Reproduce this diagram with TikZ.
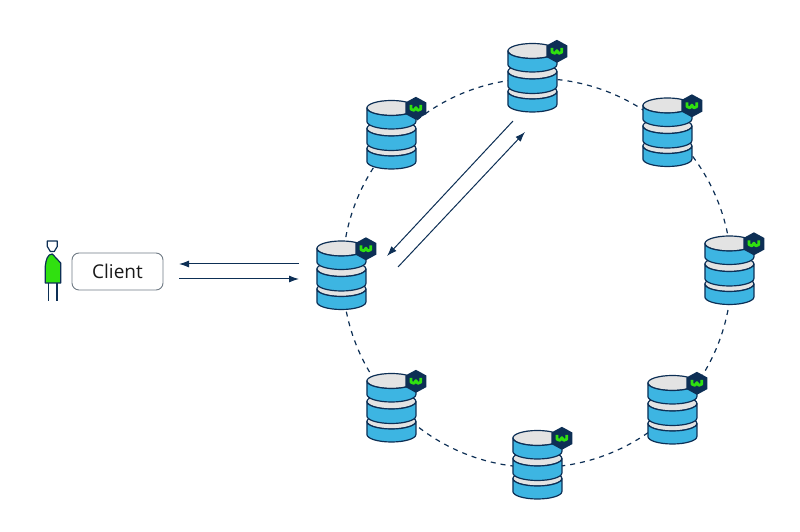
\documentclass[tikz,border=0pt]{standalone}
\usepackage{fontspec}
\setmainfont{Open Sans}
\usetikzlibrary{arrows.meta}

\definecolor{navy}{HTML}{0D2F55}
\definecolor{dbblue}{HTML}{3DB5E2}
\definecolor{dbgrey}{HTML}{E3E3E3}
\definecolor{nodegreen}{HTML}{30E010}
\definecolor{boxgrey}{HTML}{6F7A84}

\tikzset{
    x=1pt, y=1pt,
    outline/.style={draw=navy, line width=1.2pt, line join=round},
    ringline/.style={draw=navy, line width=1.2pt, dash pattern=on 5pt off 5pt, circle, inner sep=0pt, minimum size=389pt},
    msgline/.style={navy, line width=1pt, -{Latex[length=10pt,width=7pt]}},
    clientbox/.style={draw=boxgrey, line width=0.9pt, rounded corners=7pt, minimum width=91pt, minimum height=37pt, font=\fontsize{19}{19}\selectfont, text=black!90},
    dbstack/.pic={
        % lower layers first
        \foreach \ytop/\ybot in {-13.5/-26.5, 6.5/-8, 27/13.5} {
            \draw[outline, fill=dbgrey] (0,\ytop) ellipse [x radius=24.5, y radius=7.5];
            \draw[outline, fill=dbblue] (-24.5,\ytop) arc [start angle=180, end angle=360, x radius=24.5, y radius=7.5]
                -- (24.5,\ybot) arc [start angle=360, end angle=180, x radius=24.5, y radius=7.5] -- cycle;
        }
        \fill[navy] (24.5,38.2) -- (35,32.45) -- (35,20.95) -- (24.5,15.2) -- (14,20.95) -- (14,32.45) -- cycle;
        \draw[nodegreen, line width=2.8pt, line join=round]
            (19.6,30) -- (19.6,25.8) -- (22.6,24.6) -- (24.5,27.4) -- (26.4,24.6) -- (29.4,25.8) -- (29.4,30);
    }
}

\begin{document}
\begin{tikzpicture}
    \useasboundingbox (0,0) rectangle (800,532);

    \coordinate (dbleft) at (341.4,256.5);
    \coordinate (dbtop) at (532.4,454);
    \coordinate (dburight) at (667.4,399.5);
    \coordinate (dbright) at (729.4,261.5);
    \coordinate (dblright) at (672.4,122);
    \coordinate (dbbottom) at (537.4,67);
    \coordinate (dblleft) at (391.4,124);
    \coordinate (dbuleft) at (391.4,397);

    % ring
    \node[ringline] (ring) at (537,259) {};

    \foreach \db in {dbleft, dbtop, dburight, dbright, dblright, dbbottom, dblleft, dbuleft}
        \pic at (\db) {dbstack};

    % person
    \draw[outline, fill=white] (47.3,291) -- (57.3,291) -- (57.3,285.5) -- (54.3,280.5) -- (50.3,280.5) -- (47.3,285.5) -- cycle;
    \draw[outline, fill=nodegreen] (45.3,249) -- (45.3,266) .. controls (46,272) and (47.5,278) .. (52.3,278)
        -- (60.7,269) -- (60.7,249) -- cycle;
    \draw[outline] (48.7,249) -- (48.7,230.5);
    \draw[outline] (57,249) -- (57,230.5);

    \node[clientbox] (client) at (117.5,260.5) {Client};

    \coordinate (clientin) at (179,268);
    \coordinate (clientout) at (179,253);
    \coordinate (leftout) at (299,268);
    \coordinate (leftin) at (299,253);
    \draw[msgline] (leftout) -- (clientin);
    \draw[msgline] (clientout) -- (leftin);

    \coordinate (topout) at (513,411);
    \coordinate (topin) at (525,400);
    \coordinate (diagin) at (387,276);
    \coordinate (diagout) at (398,265);
    \draw[msgline] (topout) -- (diagin);
    \draw[msgline] (diagout) -- (topin);
\end{tikzpicture}
\end{document}
